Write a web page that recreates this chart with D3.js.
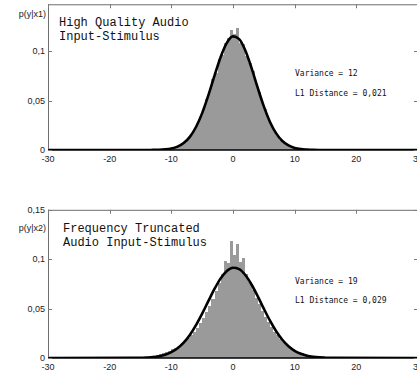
<!DOCTYPE html>
<html>
<head>
<meta charset="utf-8">
<script src="https://cdn.jsdelivr.net/npm/d3@7"></script>
<style>
  html, body { margin: 0; padding: 0; background: #fff; }
  svg { display: block; }
</style>
</head>
<body>
<div id="chart"></div>
<script>
// x ticks shared by both panels
const xTicks = [-30, -20, -10, 0, 10, 20, 30];
const xTickLabels = ["-30", "-20", "-10", "0", "10", "20", "30"];

// fitted gaussian curves at these x positions
const curveX = [-30, -16, -15, -14, -13, -12, -11, -10, -9, -8, -7, -6, -5, -4, -3, -2, -1,
  0, 1, 2, 3, 4, 5, 6, 7, 8, 9, 10, 11, 12, 13, 14, 15, 16, 30];
const curve1 = [0, 0, 0, 0, 0.0001, 0.0002, 0.0006, 0.0015, 0.0034, 0.0070, 0.0133, 0.0233, 0.0373,
  0.0552, 0.0752, 0.0942, 0.1085, 0.1150, 0.1122, 0.1007, 0.0831, 0.0631, 0.0441, 0.0284, 0.0168,
  0.0091, 0.0046, 0.0021, 0.0009, 0.0004, 0.0001, 0, 0, 0, 0];
const curve2 = [0, 0.0001, 0.0002, 0.0005, 0.0009, 0.0018, 0.0034, 0.0059, 0.0099, 0.0156, 0.0234,
  0.0333, 0.0449, 0.0575, 0.0699, 0.0806, 0.0881, 0.0914, 0.0900, 0.0840, 0.0744, 0.0626, 0.0499,
  0.0378, 0.0271, 0.0185, 0.0119, 0.0073, 0.0043, 0.0023, 0.0012, 0.0006, 0.0003, 0.0001, 0];

// histograms (bin width 0.5)
const hist1Start = -12;
const hist1 = [0.0004, 0.0006, 0.0008, 0.0012, 0.0018, 0.0028, 0.0040, 0.0058, 0.0080, 0.0108,
  0.0150, 0.0200, 0.0262, 0.0330, 0.0415, 0.0520, 0.0585, 0.0720, 0.0780, 0.0920, 0.0960, 0.1080,
  0.1130, 0.1210, 0.1170, 0.1230, 0.1080, 0.1070, 0.0950, 0.0880, 0.0800, 0.0670, 0.0590, 0.0480,
  0.0410, 0.0315, 0.0255, 0.0190, 0.0145, 0.0105, 0.0075, 0.0052, 0.0036, 0.0025, 0.0017, 0.0011,
  0.0007, 0.0004];
const hist2Start = -14;
const hist2 = [0.0010, 0.0014, 0.0020, 0.0028, 0.0036, 0.0046, 0.0058, 0.0072, 0.0088, 0.0105,
  0.0125, 0.0148, 0.0170, 0.0200, 0.0232, 0.0268, 0.0305, 0.0350, 0.0405, 0.0465, 0.0530, 0.0600,
  0.0680, 0.0760, 0.0850, 0.0980, 0.0960, 0.1180, 0.1040, 0.1150, 0.0970, 0.1010, 0.0850, 0.0770,
  0.0690, 0.0610, 0.0545, 0.0475, 0.0415, 0.0360, 0.0310, 0.0265, 0.0228, 0.0192, 0.0160, 0.0135,
  0.0112, 0.0092, 0.0075, 0.0060, 0.0048, 0.0038, 0.0030, 0.0022, 0.0016, 0.0011];

const panels = [
  { ylabel: "p(y|x1)", title: ["High Quality Audio", "Input-Stimulus"], yMax: 0.1475,
    yTicks: [0, 0.05, 0.1], yTickLabels: ["0", "0,05", "0,1"],
    hist: hist1, histStart: hist1Start, curve: curve1,
    stats: ["Variance = 12", "L1 Distance = 0,021"] },
  { ylabel: "p(y|x2)", title: ["Frequency Truncated", "Audio Input-Stimulus"], yMax: 0.15,
    yTicks: [0, 0.05, 0.1, 0.15], yTickLabels: ["0", "0,05", "0,1", "0,15"],
    hist: hist2, histStart: hist2Start, curve: curve2,
    stats: ["Variance = 19", "L1 Distance = 0,029"] }
];

const Width = 417, Height = 374;
const binW = 0.5;
const MarginLeft = 48, PlotRight = 418;
const frames = [{ bottom: 150 }, { bottom: 358 }];
const pxPerUnit = 988;

const svg = d3.select("#chart").append("svg")
  .attr("width", Width).attr("height", Height)
  .attr("viewBox", [0, 0, Width, Height]);
svg.append("rect").attr("width", Width).attr("height", Height).attr("fill", "#fff");

const X = d3.scaleLinear().domain([-30, 30]).range([MarginLeft, PlotRight]);

panels.forEach((p, i) => {
  const bottom = frames[i].bottom;
  const top = bottom - p.yMax * pxPerUnit;
  const Y = d3.scaleLinear().domain([0, p.yMax]).range([bottom, top]);
  const g = svg.append("g");

  g.append("clipPath").attr("id", "clip" + i)
    .append("rect").attr("x", MarginLeft).attr("y", top)
    .attr("width", PlotRight - MarginLeft).attr("height", bottom - top);

  const plot = g.append("g").attr("clip-path", `url(#clip${i})`);

  // histogram bars, snapped to whole pixels so neighbours touch
  const bx = k => Math.round(X(p.histStart + k * binW));
  plot.append("g").attr("shape-rendering", "crispEdges").selectAll("rect")
    .data(p.hist)
    .join("rect")
    .attr("x", (d, k) => bx(k))
    .attr("width", (d, k) => bx(k + 1) - bx(k))
    .attr("y", d => Y(d))
    .attr("height", d => Y(0) - Y(d))
    .attr("fill", "#9a9a9a");

  // fitted curve
  const line = d3.line()
    .x((d, k) => X(curveX[k]))
    .y(d => Y(d))
    .curve(d3.curveMonotoneX);
  plot.append("path")
    .datum(p.curve)
    .attr("d", line)
    .attr("fill", "none")
    .attr("stroke", "#000")
    .attr("stroke-width", 2.6);

  // frame
  const frame = g.append("g").attr("stroke", "#6e6e6e").attr("fill", "none");
  frame.append("line").attr("x1", MarginLeft + 0.5).attr("x2", MarginLeft + 0.5).attr("y1", top).attr("y2", bottom);
  frame.append("line").attr("x1", MarginLeft).attr("x2", PlotRight).attr("y1", top + 0.5).attr("y2", top + 0.5);
  frame.append("line").attr("x1", PlotRight - 0.5).attr("x2", PlotRight - 0.5).attr("y1", top).attr("y2", bottom);
  g.append("line").attr("x1", MarginLeft).attr("x2", PlotRight).attr("y1", bottom).attr("y2", bottom)
    .attr("stroke", "#000").attr("stroke-width", 1.5);

  // inward ticks
  const ticks = g.append("g").attr("stroke", "#7a7a7a");
  xTicks.forEach(t => {
    ticks.append("line").attr("x1", Math.round(X(t)) + 0.5).attr("x2", Math.round(X(t)) + 0.5)
      .attr("y1", top).attr("y2", top + 4);
  });
  p.yTicks.forEach(t => {
    const yy = Math.round(Y(t)) + 0.5;
    ticks.append("line").attr("x1", MarginLeft).attr("x2", MarginLeft + 4).attr("y1", yy).attr("y2", yy);
    ticks.append("line").attr("x1", PlotRight - 4).attr("x2", PlotRight).attr("y1", yy).attr("y2", yy);
  });

  // tick labels
  const lab = g.append("g").attr("font-family", "Liberation Sans, Arial, sans-serif")
    .attr("font-size", 9).attr("fill", "#222");
  xTicks.forEach((t, k) => {
    lab.append("text").attr("x", X(t)).attr("y", bottom + 12)
      .attr("text-anchor", "middle").text(xTickLabels[k]);
  });
  p.yTicks.forEach((t, k) => {
    lab.append("text").attr("x", MarginLeft - 3).attr("y", Y(t) + 3)
      .attr("text-anchor", "end").text(p.yTickLabels[k]);
  });
  lab.append("text").attr("x", MarginLeft - 2).attr("y", top + (i === 0 ? 13 : 21))
    .attr("text-anchor", "end").text(p.ylabel);

  // title block
  const tt = g.append("g").attr("font-family", "Liberation Mono, Courier New, monospace")
    .attr("font-size", 12).attr("fill", "#111");
  p.title.forEach((s, k) => {
    tt.append("text").attr("x", i === 0 ? 59 : 63).attr("y", top + 22 + k * 14)
      .attr("xml:space", "preserve").text(s);
  });

  // stats
  const st = g.append("g").attr("font-family", "DejaVu Sans Mono, monospace")
    .attr("font-size", 8).attr("fill", "#111");
  p.stats.forEach((s, k) => {
    st.append("text").attr("x", 295).attr("y", top + (i === 0 ? 72 : 74) + k * 19.5)
      .text(s);
  });
});
</script>
</body>
</html>
